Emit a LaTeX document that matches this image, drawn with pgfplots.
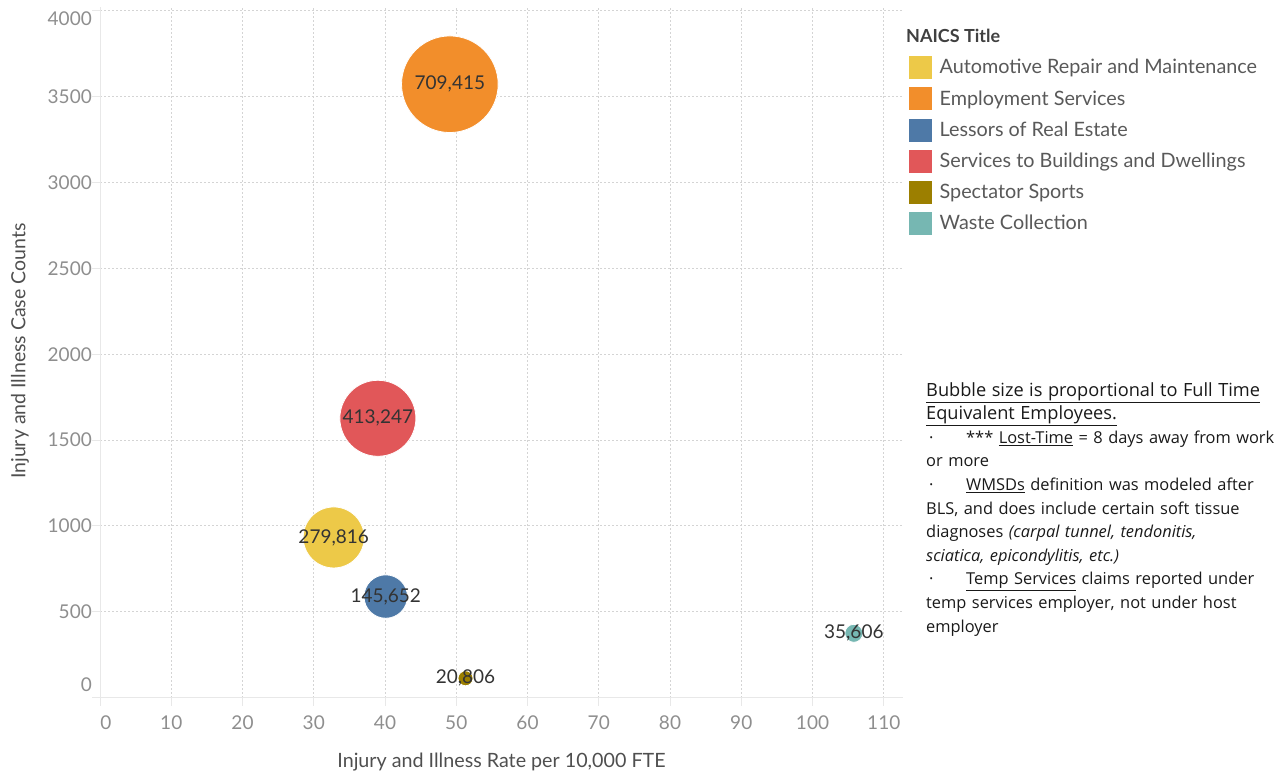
\documentclass[border=0pt]{standalone}
\usepackage{fontspec}
\setmainfont{Lato}
\newfontfamily\notefont{Open Sans}
\usepackage{pgfplots}
\pgfplotsset{compat=1.18}

\definecolor{autoc}{HTML}{EDC948}
\definecolor{empc}{HTML}{F28E2B}
\definecolor{lessc}{HTML}{4E79A7}
\definecolor{servc}{HTML}{E15759}
\definecolor{sportc}{HTML}{9C7F00}
\definecolor{wastec}{HTML}{76B7B2}
\definecolor{gridgray}{HTML}{D4D4D4}
\definecolor{axisgray}{HTML}{E8E8E8}
\definecolor{tickgray}{HTML}{8E8E8E}
\definecolor{labgray}{HTML}{4F4F4F}
\definecolor{legtext}{HTML}{595959}

\pgfplotsset{
  bubble/.style={only marks, mark=*, forget plot,
    mark options={fill=#1, draw=white, line width=0.8pt},
    nodes near coords, point meta=explicit symbolic,
    nodes near coords style={anchor=center, inner sep=0pt,
      font=\fontsize{19}{19}\selectfont, text=black!80}},
}
\newcommand{\swatch}[1]{\addlegendimage{legend image code/.code={%
  \fill[#1] (0pt,-11pt) rectangle (22pt,11pt); \path (30pt,0pt);}}}

\begin{document}
\begin{tikzpicture}
\path[use as bounding box] (0,0) rectangle (1280pt,772pt);
\begin{axis}[
  at={(100pt,74.3pt)}, anchor=south west,
  scale only axis, width=803pt, height=690.4pt,
  xmin=0, xmax=112.7, ymin=0, ymax=4020,
  xtick={0,10,...,110}, ytick={0,500,...,4000},
  axis x line*=bottom, axis y line*=left,
  axis line style={draw=axisgray, line width=1pt, -},
  tick style={draw=axisgray, line width=1pt},
  major tick length=8pt, tick align=outside,
  grid=major,
  grid style={draw=gridgray, dash pattern=on 2pt off 2pt, line width=1pt},
  clip=false,
  /pgf/number format/assume math mode=true,
  /pgf/number format/1000 sep={},
  xticklabel={\ifdim\tick pt<1pt\hspace*{12pt}0\else\pgfmathprintnumber{\tick}\fi},
  yticklabel={\ifdim\tick pt<1pt\raisebox{6.2pt}[0pt][0pt]{0}\else\ifdim\tick pt>3999pt\raisebox{-15pt}[0pt][0pt]{4000}\else\pgfmathprintnumber{\tick}\fi\fi},
  xticklabel style={font=\fontsize{19}{19}\selectfont, text=tickgray, inner sep=0pt, yshift=-10pt},
  yticklabel style={font=\fontsize{19}{19}\selectfont, text=tickgray, inner sep=0pt},
  xlabel={Injury and Illness Rate per 10,000 FTE},
  ylabel={Injury and Illness Case Counts},
  xlabel style={at={(axis description cs:0.5,-0.093)}, anchor=center,
    font=\fontsize{19.7}{19.7}\selectfont, text=labgray},
  ylabel style={at={(axis description cs:-0.0996,0.502)}, anchor=center,
    font=\fontsize{19.5}{19.5}\selectfont, text=labgray},
  legend style={at={(axis description cs:1.00747,0.9295)}, anchor=north west,
    draw=none, fill=none, inner sep=0pt, row sep=8.8pt,
    nodes={inner sep=0pt}, font=\fontsize{19.8}{19.8}\selectfont, text=legtext},
  legend cell align=left,
]
\addplot[bubble=autoc, mark size=30.5pt] table[meta=label] {
x y label
32.8 933 279,816
};
\addplot[bubble=empc, mark size=48.3pt] table[meta=label] {
x y label
49.1 3572 709,415
};
\addplot[bubble=lessc, mark size=21.7pt] table[meta=label] {
x y label
40.1 589 145,652
};
\addplot[bubble=servc, mark size=38pt] table[meta=label] {
x y label
39.0 1627 413,247
};
\addplot[bubble=sportc, mark size=7.5pt] table[meta=label] {
x y label
51.3 113 20,806
};
\addplot[bubble=wastec, mark size=9pt] table[meta=label] {
x y label
105.8 375 35,606
};
\swatch{autoc}\addlegendentry{Automotive Repair and Maintenance}
\swatch{empc}\addlegendentry{Employment Services}
\swatch{lessc}\addlegendentry{Lessors of Real Estate}
\swatch{servc}\addlegendentry{Services to Buildings and Dwellings}
\swatch{sportc}\addlegendentry{Spectator Sports}
\swatch{wastec}\addlegendentry{Waste Collection}
\end{axis}
\node[anchor=west, inner sep=0pt, font=\fontsize{18}{18}\selectfont\bfseries, text=black!75]
  at (906pt,736pt) {NAICS Title};
\node[anchor=north west, inner sep=0pt, text width=360pt, align=left,
  font=\notefont\fontsize{16.4}{23.6}\selectfont, text=black!90]
  at (926pt,390pt) {%
{\fontsize{18.2}{23.6}\selectfont\underline{Bubble size is proportional to Full Time}}\\
{\fontsize{18.2}{23.6}\selectfont\underline{Equivalent Employees.}}\\
\makebox[40pt][l]{\hspace{3pt}·}*** \underline{Lost-Time} = 8 days away from work\\
or more\\
\makebox[40pt][l]{\hspace{3pt}·}\underline{WMSDs} definition was modeled after\\
BLS, and does include certain soft tissue\\
diagnoses \textit{(carpal tunnel, tendonitis,}\\
\textit{sciatica, epicondylitis, etc.)}\\
\makebox[40pt][l]{\hspace{3pt}·}\underline{Temp Services} claims reported under\\
temp services employer, not under host\\
employer};
\end{tikzpicture}
\end{document}
